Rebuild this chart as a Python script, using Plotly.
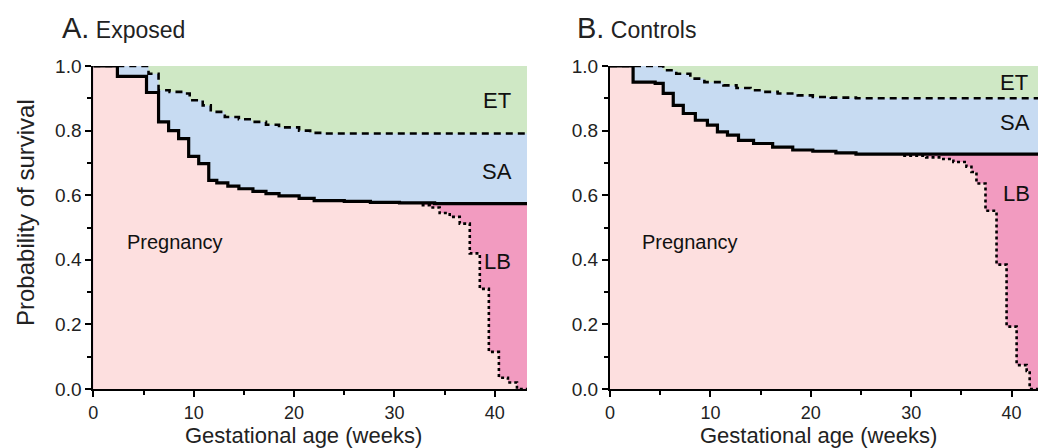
import plotly.graph_objects as go

# ---------------- data ----------------
# Panel A: Exposed
exp_loss_x = [0, 2.4, 5.3, 6.5, 7.5, 8.5, 9.5, 10.5, 11.5, 12.3, 13.4, 14.5, 15.9, 17.2, 18.5, 20.5, 22.0, 25.0, 27.6, 30.5, 34.0, 43.2]
exp_loss_y = [1.0, 0.968, 0.918, 0.827, 0.80, 0.775, 0.72, 0.698, 0.646, 0.638, 0.628, 0.620, 0.612, 0.605, 0.598, 0.590, 0.583, 0.581, 0.578, 0.576, 0.574, 0.574]
exp_et_x = [0, 5.5, 6.5, 7.6, 9.2, 9.6, 10.9, 11.7, 13.1, 14.5, 15.8, 17.2, 18.5, 20.5, 21.6, 23.0, 43.2]
exp_et_y = [1.0, 0.976, 0.925, 0.920, 0.915, 0.894, 0.878, 0.858, 0.842, 0.835, 0.827, 0.818, 0.810, 0.800, 0.793, 0.791, 0.791]
exp_lb_x = [32.7, 33.5, 34.5, 35.5, 36.5, 37.5, 38.5, 39.4, 40.4, 41.3, 42.2, 43.2]
exp_lb_y = [0.569, 0.562, 0.545, 0.533, 0.512, 0.420, 0.310, 0.115, 0.035, 0.020, 0.0, 0.0]

# Panel B: Controls
ctl_loss_x = [0, 2.3, 4.5, 5.3, 6.3, 7.3, 8.5, 9.7, 10.7, 11.7, 12.8, 14.3, 16.2, 18.2, 20.2, 22.5, 24.5, 43.0]
ctl_loss_y = [1.0, 0.950, 0.946, 0.915, 0.878, 0.853, 0.832, 0.817, 0.796, 0.786, 0.770, 0.760, 0.749, 0.740, 0.736, 0.731, 0.727, 0.726]
ctl_et_x = [0, 5.3, 6.6, 8.0, 9.4, 11.3, 12.6, 14.0, 15.3, 16.7, 18.7, 20.2, 22.0, 24.5, 43.0]
ctl_et_y = [1.0, 0.987, 0.976, 0.961, 0.950, 0.940, 0.932, 0.925, 0.920, 0.915, 0.909, 0.904, 0.902, 0.900, 0.900]
ctl_lb_x = [29.2, 31.5, 33.2, 34.2, 35.5, 36.0, 36.5, 37.4, 38.5, 39.5, 40.5, 41.5, 41.8, 43.0]
ctl_lb_y = [0.722, 0.717, 0.712, 0.703, 0.688, 0.672, 0.636, 0.552, 0.385, 0.193, 0.074, 0.056, 0.0, 0.0]

panel_titles = ["A.", "B."]
panel_names = ["Exposed", "Controls"]
region_labels = ["ET", "SA", "LB"]
x_ticks = [0, 10, 20, 30, 40]
y_ticks = [0.0, 0.2, 0.4, 0.6, 0.8, 1.0]

# ---------------- styling ----------------
GREEN = "#cfe8c5"
BLUE = "#c7dbf2"
LIGHT_PINK = "#fddfdf"
DARK_PINK = "#f29bc0"
FONT = "Liberation Sans, Arial, sans-serif"

W, H = 1038, 448
fig = go.Figure()


def add_panel(n, loss_x, loss_y, et_x, et_y, lb_x, lb_y):
    xa = "x" if n == 1 else "x2"
    ya = "y" if n == 1 else "y2"
    # ongoing-pregnancy boundary: loss curve until live births begin, then LB curve
    ong_x = [x for x in loss_x if x < lb_x[0]] + lb_x
    ong_y = [y for x, y in zip(loss_x, loss_y) if x < lb_x[0]] + lb_y
    common = dict(xaxis=xa, yaxis=ya, mode="lines", line_shape="hv",
                  showlegend=False, hoverinfo="skip")
    fig.add_trace(go.Scatter(x=et_x, y=et_y, fill="tozeroy", fillcolor=BLUE,
                             line=dict(width=0, color=BLUE), **common))
    fig.add_trace(go.Scatter(x=loss_x, y=loss_y, fill="tozeroy", fillcolor=DARK_PINK,
                             line=dict(width=0, color=DARK_PINK), **common))
    fig.add_trace(go.Scatter(x=ong_x, y=ong_y, fill="tozeroy", fillcolor=LIGHT_PINK,
                             line=dict(width=0, color=LIGHT_PINK), **common))
    fig.add_trace(go.Scatter(x=lb_x, y=lb_y, line=dict(width=2.6, color="black", dash="dot"), **common))
    fig.add_trace(go.Scatter(x=et_x, y=et_y, line=dict(width=2.6, color="black", dash="7px,5px"), **common))
    fig.add_trace(go.Scatter(x=loss_x, y=loss_y, line=dict(width=3.2, color="black"), **common))


add_panel(1, exp_loss_x, exp_loss_y, exp_et_x, exp_et_y, exp_lb_x, exp_lb_y)
add_panel(2, ctl_loss_x, ctl_loss_y, ctl_et_x, ctl_et_y, ctl_lb_x, ctl_lb_y)

ydom = [(H - 389) / H, (H - 66) / H]
axis_common = dict(showline=True, linecolor="black", linewidth=2, ticks="outside",
                   ticklen=6, tickwidth=2, tickcolor="black", showgrid=False, automargin=False,
                   zeroline=False, tickfont=dict(family=FONT, size=19, color="#222"))
xaxis_common = dict(axis_common, tickvals=x_ticks, tickfont=dict(family=FONT, size=18, color="#222"),
                    minor=dict(dtick=5, tick0=0, ticks="outside", ticklen=4, tickwidth=2, tickcolor="black"))
yaxis_common = dict(axis_common, tickvals=y_ticks, tickformat=".1f", range=[0, 1],
                    minor=dict(dtick=0.1, tick0=0, ticks="outside", ticklen=4, tickwidth=2, tickcolor="black"))

fig.update_layout(
    template="none",
    width=W, height=H,
    margin=dict(l=0, r=0, t=0, b=0, pad=0, autoexpand=False),
    paper_bgcolor="white",
    plot_bgcolor=GREEN,
    xaxis=dict(xaxis_common, domain=[93.3 / W, 527 / W], range=[0, 43.2], anchor="y"),
    yaxis=dict(yaxis_common, domain=ydom, anchor="x"),
    xaxis2=dict(xaxis_common, domain=[610 / W, 1.0], range=[0, 42.63], anchor="y2"),
    yaxis2=dict(yaxis_common, domain=ydom, anchor="x2"),
)

ann = []
# Panel titles
for px, t, name in [(60, panel_titles[0], panel_names[0]), (575, panel_titles[1], panel_names[1])]:
    ann.append(dict(x=px / W, y=1 - 28 / H, xref="paper", yref="paper", xanchor="left", yanchor="middle",
                    text=f"<span style='font-size:29px'>{t}</span> {name}", showarrow=False,
                    font=dict(family=FONT, size=23, color="#222")))
# Axis titles
for cx in [303.5, 818]:
    ann.append(dict(x=cx / W, y=1 - 435 / H, xref="paper", yref="paper", xanchor="center", yanchor="middle",
                    text="Gestational age (weeks)", showarrow=False, font=dict(family=FONT, size=22, color="#222")))
ann.append(dict(x=25 / W, y=1 - 213 / H, xref="paper", yref="paper", xanchor="center", yanchor="middle",
                text="Probability of survival", textangle=-90, showarrow=False,
                font=dict(family=FONT, size=24, color="#222")))
# Region labels
for cx, cy, t in [(497, 100, region_labels[0]), (497, 171, region_labels[1]), (497, 261, region_labels[2]),
                  (1014, 82, region_labels[0]), (1015, 123, region_labels[1]), (1016, 193, region_labels[2])]:
    ann.append(dict(x=cx / W, y=1 - cy / H, xref="paper", yref="paper", xanchor="center", yanchor="middle",
                    text=t, showarrow=False, font=dict(family=FONT, size=22, color="#111")))
for cx in [175, 690]:
    ann.append(dict(x=cx / W, y=1 - 242 / H, xref="paper", yref="paper", xanchor="center", yanchor="middle",
                    text="Pregnancy", showarrow=False, font=dict(family=FONT, size=20, color="#111")))
fig.update_layout(annotations=ann)

fig.write_html("out.html", config={"displayModeBar": False},
               post_script="document.body.style.margin='0';document.body.style.overflow='hidden';")
